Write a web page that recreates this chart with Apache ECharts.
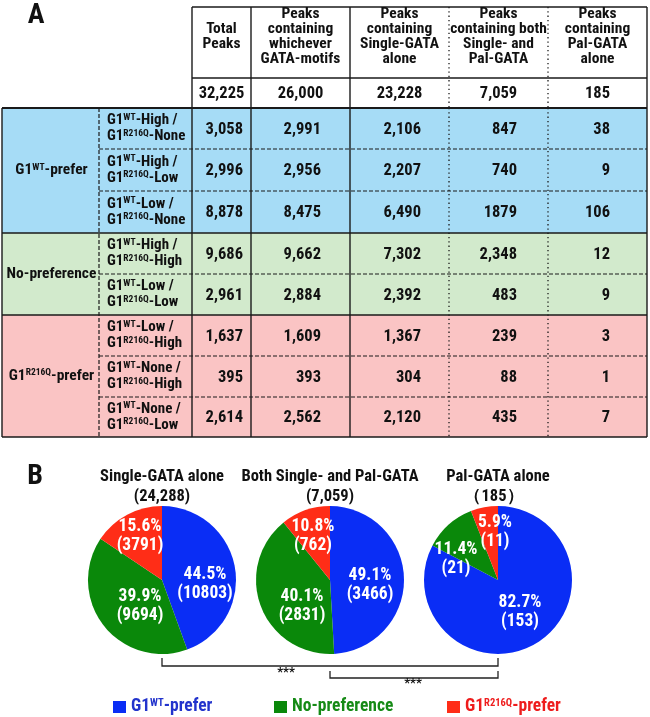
<!DOCTYPE html>
<html><head><meta charset="utf-8">
<script src="https://cdn.jsdelivr.net/npm/echarts@6/dist/echarts.min.js"></script>
<style>html,body{margin:0;padding:0;background:#fff}#c{width:650px;height:717px}</style>
</head><body><div id="c"></div>
<script>
// ---------------- data ----------------
const columnHeaders = ['Total\nPeaks', 'Peaks\ncontaining\nwhichever\nGATA-motifs', 'Peaks\ncontaining\nSingle-GATA\nalone', 'Peaks\ncontaining both\nSingle- and\nPal-GATA', 'Peaks\ncontaining\nPal-GATA\nalone'];
const totalCounts = ['32,225', '26,000', '23,228', '7,059', '185'];
const groupNames = ['G1{s|WT}-prefer', 'No-preference', 'G1{s|R216Q}-prefer'];
const groupSizes = [3, 2, 3];
const wtLevels = ['High', 'High', 'Low', 'High', 'Low', 'Low', 'None', 'None'];
const mutLevels = ['None', 'Low', 'None', 'High', 'Low', 'High', 'High', 'Low'];
const totalPeaks = ['3,058', '2,996', '8,878', '9,686', '2,961', '1,637', '395', '2,614'];
const anyGata = ['2,991', '2,956', '8,475', '9,662', '2,884', '1,609', '393', '2,562'];
const singleAlone = ['2,106', '2,207', '6,490', '7,302', '2,392', '1,367', '304', '2,120'];
const bothGata = ['847', '740', '1879', '2,348', '483', '239', '88', '435'];
const palAlone = ['38', '9', '106', '12', '9', '3', '1', '7'];

const pieTitles = ['Single-GATA alone', 'Both Single- and Pal-GATA', 'Pal-GATA alone'];
const pieTotals = ['(24,288)', '(7,059)', '（185）'];
const categoryNames = ['G1WT-prefer', 'No-preference', 'G1R216Q-prefer'];
const categoryLabels = ['G1{s|WT}-prefer', 'No-preference', 'G1{s|R216Q}-prefer'];
const wtPrefer = [10803, 3466, 153];
const noPref = [9694, 2831, 21];
const mutPrefer = [3791, 762, 11];
const significance = ['***', '***'];

// ---------------- layout / style ----------------
const FONT = "'Roboto Condensed','DejaVu Sans Condensed',sans-serif";
const SX = 1;
const colEdges = [2, 99, 192, 251, 350, 449, 548, 647];
const headerEdges = [7, 78, 108];
const rowEdges = [108, 149, 191, 233, 274, 315, 356, 397, 437];
const valueRight = [243, 321, 421, 517, 610];
const groupFill = ['#a6dcf6', '#d2eacc', '#fac4c4'];
const sliceColors = ['#0a2df5', '#0a880a', '#ff2d17'];
const legendText = ['#2233cc', '#158a15', '#ee1c1c'];
const pieCenters = [[162, 580], [330, 580], [498, 580]];
const pieR = 74;
const labelOffsets = [
  [[43, 4], [-22, 26], [-22, -44]],
  [[40, 5], [-28, 26], [-17, -44]],
  [[22, 32], [-42, -21], [-3, -48]]
];
const INK = '#111';
const supRich = {s: {fontSize: 9.5, fontWeight: 'bold', fontFamily: FONT, verticalAlign: 'top', lineHeight: 10}};

// ---------------- build items ----------------
const bgItems = [];
const lineItems = [];
const textItems = [];
function T(x, y, text, o) { textItems.push(Object.assign({x, y, text, size: 15, align: 'center', color: INK, lh: 16}, o || {})); }

let r = 0;
groupSizes.forEach((n, g) => {
  for (let k = 0; k < n; k++, r++) bgItems.push({v: [colEdges[0], rowEdges[r], colEdges[7], rowEdges[r + 1]], fill: groupFill[g]});
});

columnHeaders.forEach((h, i) => {
  const cx = (colEdges[i + 2] + colEdges[i + 3]) / 2;
  T(cx, headerEdges[0] + 30, h, {size: 15.5, lh: 15});
  T(cx, (headerEdges[1] + headerEdges[2]) / 2 + 0.5, totalCounts[i], {size: 16.5});
});
const cols = [totalPeaks, anyGata, singleAlone, bothGata, palAlone];
r = 0;
groupSizes.forEach((n, g) => {
  T((colEdges[0] + colEdges[1]) / 2 + 1, (rowEdges[r] + rowEdges[r + n]) / 2, groupNames[g], {size: 15.5});
  r += n;
});
for (let i = 0; i < rowEdges.length - 1; i++) {
  const cy = (rowEdges[i] + rowEdges[i + 1]) / 2;
  T(colEdges[1] + 8, cy, 'G1{s|WT}-' + wtLevels[i] + ' /\nG1{s|R216Q}-' + mutLevels[i], {size: 15, align: 'left', lh: 16});
  cols.forEach((c, j) => T(valueRight[j], cy + 1, c[i], {size: 16.5, align: 'right'}));
}
T(36, 16, 'A', {size: 28, lh: 28});
T(35, 477, 'B', {size: 28, lh: 28});
pieTitles.forEach((t, i) => {
  T(pieCenters[i][0], 477, t, {size: 16.5});
  T(pieCenters[i][0] + (i === 2 ? -4 : 0), 497, pieTotals[i], {size: 16.5});
});

const L = (x1, y1, x2, y2, k) => lineItems.push({v: [x1, y1, x2, y2], k});
const xL = colEdges[0], xR = colEdges[7];
L(colEdges[2], headerEdges[0], xR, headerEdges[0], 'solid');
L(colEdges[2], headerEdges[1], xR, headerEdges[1], 'solid');
[2, 3, 4, 7].forEach(c => L(colEdges[c], headerEdges[0], colEdges[c], headerEdges[2], 'solid'));
[5, 6].forEach(c => L(colEdges[c], headerEdges[0], colEdges[c], headerEdges[2], 'dot'));
L(xL, rowEdges[0], xR, rowEdges[0], 'thick');
L(xL, rowEdges[8], xR, rowEdges[8], 'solid');
[0, 2, 3, 4, 7].forEach(c => L(colEdges[c], rowEdges[0], colEdges[c], rowEdges[8], 'solid'));
L(colEdges[1], rowEdges[0], colEdges[1], rowEdges[8], 'dash');
[5, 6].forEach(c => L(colEdges[c], rowEdges[0], colEdges[c], rowEdges[8], 'dot'));
r = 0;
groupSizes.forEach((n, g) => {
  for (let k = 1; k < n; k++) L(colEdges[1], rowEdges[r + k], xR, rowEdges[r + k], 'dash');
  r += n;
  if (g < groupSizes.length - 1) L(xL, rowEdges[r], xR, rowEdges[r], 'solid');
});
const brackets = [[0, 2, 658, 666], [1, 2, 671, 678]];
const bracketItems = brackets.map(b => ({v: [pieCenters[b[0]][0], b[2], pieCenters[b[1]][0], b[3]]}));
T(286, 673, significance[0], {size: 13, lh: 14});
T(413, 684, significance[1], {size: 13, lh: 14});

const lineStyles = {
  solid: {stroke: '#1a1a1a', lineWidth: 1.4},
  thick: {stroke: '#1a1a1a', lineWidth: 2.2},
  dash: {stroke: '#1a1a1a', lineWidth: 1.2, lineDash: [4, 2]},
  dot: {stroke: '#1a1a1a', lineWidth: 1.3, lineDash: [1.3, 3]}
};

// ---------------- chart ----------------
const chart = echarts.init(document.getElementById('c'), null, {renderer: 'canvas'});
const pieSeries = pieCenters.map((c, i) => ({
  type: 'pie', center: c, radius: pieR, startAngle: 90, clockwise: true,
  percentPrecision: 1, silent: true, animation: false, z: 4,
  itemStyle: {borderWidth: 0},
  label: {position: 'inside', formatter: '{d}%\n({c})', color: '#fff', fontFamily: FONT, fontWeight: 'bold', fontSize: 17.5, lineHeight: 19},
  labelLine: {show: false},
  labelLayout: p => ({x: c[0] + labelOffsets[i][p.dataIndex][0], y: c[1] + labelOffsets[i][p.dataIndex][1], align: 'center', verticalAlign: 'middle'}),
  emphasis: {disabled: true},
  data: [
    {name: categoryNames[0], value: wtPrefer[i]},
    {name: categoryNames[1], value: noPref[i]},
    {name: categoryNames[2], value: mutPrefer[i]}
  ]
}));
const legendLeft = [113, 274, 447];
const option = {
  animation: false,
  color: sliceColors,
  grid: {left: 0, top: 0, width: 650, height: 717, show: false},
  xAxis: {type: 'value', min: 0, max: 650, show: false},
  yAxis: {type: 'value', min: 0, max: 717, inverse: true, show: false},
  legend: categoryNames.map((n, i) => ({
    left: legendLeft[i], top: 698, icon: 'rect', itemWidth: 13, itemHeight: 12, selectedMode: false, padding: 0,
    data: [{name: n, textStyle: {color: legendText[i]}}],
    formatter: () => categoryLabels[i],
    textStyle: {fontFamily: FONT, fontWeight: 'bold', fontSize: 17.5, rich: {s: {fontSize: 10.5, fontWeight: 'bold', fontFamily: FONT, verticalAlign: 'top', lineHeight: 11}}}
  })),
  series: [
    {type: 'custom', z: 1, silent: true, coordinateSystem: 'cartesian2d',
      data: bgItems.map(b => b.v),
      renderItem: (p, api) => {
        const a = api.coord([api.value(0), api.value(1)]), b = api.coord([api.value(2), api.value(3)]);
        return {type: 'rect', shape: {x: a[0], y: a[1], width: b[0] - a[0], height: b[1] - a[1]}, style: {fill: bgItems[p.dataIndex].fill}};
      }},
    {type: 'custom', z: 2, silent: true,
      data: lineItems.map(l => l.v),
      renderItem: (p, api) => {
        const a = api.coord([api.value(0), api.value(1)]), b = api.coord([api.value(2), api.value(3)]);
        return {type: 'line', shape: {x1: a[0], y1: a[1], x2: b[0], y2: b[1]}, style: lineStyles[lineItems[p.dataIndex].k]};
      }},
    {type: 'custom', z: 2, silent: true,
      data: bracketItems.map(l => l.v),
      renderItem: (p, api) => {
        const a = api.coord([api.value(0), api.value(1)]), b = api.coord([api.value(2), api.value(3)]);
        return {type: 'polyline', shape: {points: [[a[0], a[1]], [a[0], b[1]], [b[0], b[1]], [b[0], a[1]]]}, style: {stroke: '#222', lineWidth: 1.3, fill: null}};
      }},
    {type: 'custom', z: 3, silent: true,
      data: textItems.map(t => [t.x, t.y]),
      renderItem: (p, api) => {
        const t = textItems[p.dataIndex];
        const a = api.coord([api.value(0), api.value(1)]);
        return {type: 'text', x: a[0], y: a[1], scaleX: SX,
          style: {text: t.text, fill: t.color, fontFamily: FONT, fontWeight: 'bold', fontSize: t.size, lineHeight: t.lh, align: t.align, verticalAlign: 'middle', rich: supRich}};
      }}
  ].concat(pieSeries)
};
chart.setOption(option);
</script></body></html>
